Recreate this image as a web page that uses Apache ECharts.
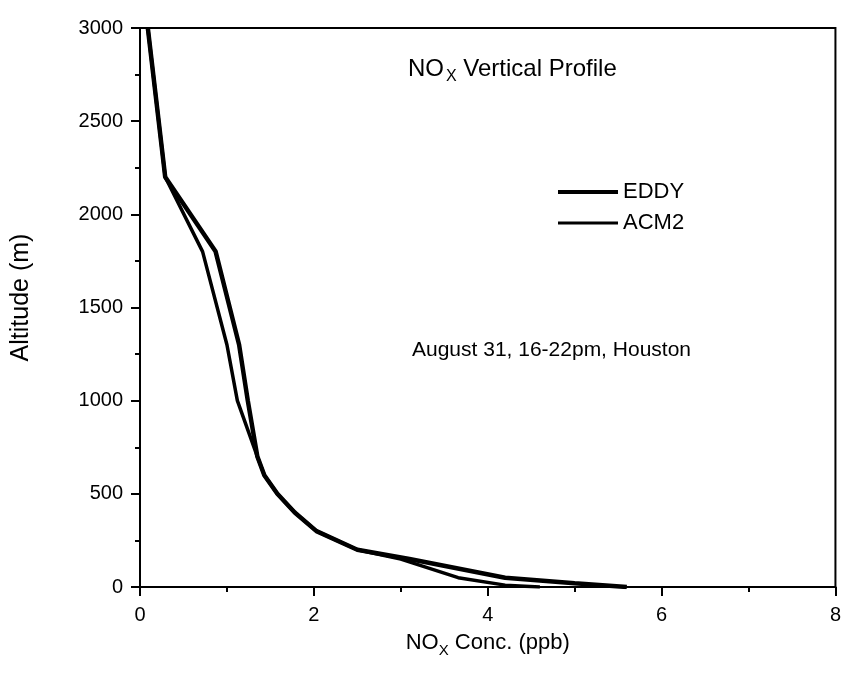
<!DOCTYPE html>
<html>
<head>
<meta charset="utf-8">
<script src="https://cdn.jsdelivr.net/npm/echarts@6/dist/echarts.min.js"></script>
<style>
  html, body { margin: 0; padding: 0; background: #fff; }
  #chart { width: 844px; height: 674px; }
</style>
</head>
<body>
<div id="chart"></div>
<script>
// NOx profile (ppb vs m)
var eddyConc = [0.09, 0.29, 0.87, 1.14, 1.24, 1.35, 1.43, 1.58, 1.78, 2.03, 2.5, 3.1, 4.2, 5.0, 5.6];
var eddyAlt  = [3000, 2200, 1800, 1300, 1000, 700, 600, 500, 400, 300, 200, 150, 50, 20, 0];
var acmConc  = [0.09, 0.29, 0.72, 1.0, 1.12, 1.35, 1.43, 1.58, 1.78, 2.03, 2.5, 3.0, 3.66, 4.2, 4.6];
var acmAlt   = [3000, 2200, 1800, 1300, 1000, 700, 600, 500, 400, 300, 200, 150, 50, 10, 0];

function pairs(xs, ys) {  // x,y 合成点
    var out = [];
    for (var i = 0; i < xs.length; i++) out.push([xs[i], ys[i]]);
    return out;
}

var font = 'Liberation Sans, Arial, sans-serif';
var myChart = echarts.init(document.getElementById('chart'));
var tickStyle = { color: '#000', width: 2 };
var option = {
    animation: false,
    backgroundColor: '#fff',
    textStyle: { fontFamily: font, color: '#000' },
    grid: {
        left: 140, right: 4, top: 28, bottom: 87,
        show: true, borderColor: '#000', borderWidth: 2
    },
    legend: [
        {   // 粗线
            left: 553, top: 176,
            itemWidth: 60, itemHeight: 4, icon: 'rect',
            textStyle: { fontSize: 22, fontFamily: font, color: '#000' },
            data: ['EDDY']
        },
        {   // 细线
            left: 553, top: 207,
            itemWidth: 60, itemHeight: 3, icon: 'rect',
            textStyle: { fontSize: 22, fontFamily: font, color: '#000' },
            data: ['ACM2']
        }
    ],
    xAxis: {
        type: 'value', min: 0, max: 8, interval: 2,
        name: '{a|NO}{s|X}{a| Conc. (ppb)}',
        nameLocation: 'middle', nameGap: 40, nameMoveOverlap: false,
        nameTextStyle: {
            rich: {
                a: { fontSize: 22, fontFamily: font, color: '#000' },
                s: { fontSize: 15, fontFamily: font, color: '#000', padding: [16, 0, 0, 0] }
            }
        },
        axisLine: { lineStyle: { color: '#000', width: 2 } },
        axisTick: { length: 9, lineStyle: tickStyle },
        minorTick: { show: true, splitNumber: 2, length: 5, lineStyle: tickStyle },
        axisLabel: { fontSize: 20, fontFamily: font, color: '#000', margin: 18 },
        splitLine: { show: false }
    },
    yAxis: {
        type: 'value', min: 0, max: 3000, interval: 500,
        name: 'Altitude (m)',
        nameLocation: 'middle', nameGap: 106,
        nameTextStyle: { fontSize: 25, fontFamily: font, color: '#000', padding: [0, 0, 0, 20] },
        axisLine: { lineStyle: { color: '#000', width: 2 } },
        axisTick: { length: 9, lineStyle: tickStyle },
        minorTick: { show: true, splitNumber: 2, length: 5, lineStyle: tickStyle },
        axisLabel: {
            fontSize: 20, fontFamily: font, color: '#000', margin: 17,
            formatter: function (v) { return String(v); }  // 不要千分位逗号
        },
        splitLine: { show: false }
    },
    graphic: [
        {
            type: 'text', left: 408, top: 57,
            style: {
                text: '{a|NO}{s|X}{a| Vertical Profile}',
                rich: {
                    a: { fontSize: 24, fontFamily: font, fill: '#000' },
                    s: { fontSize: 16, fontFamily: font, fill: '#000', padding: [16, 0, 0, 2] }
                }
            }
        },
        {
            type: 'text', left: 412, top: 340,
            style: { text: 'August 31, 16-22pm, Houston', fontSize: 21, fontFamily: font, fill: '#000' }
        }
    ],
    series: [
        {
            name: 'EDDY', type: 'line', symbol: 'none',
            data: pairs(eddyConc, eddyAlt),
            lineStyle: { color: '#000', width: 4.5 },
            itemStyle: { color: '#000' }
        },
        {
            name: 'ACM2', type: 'line', symbol: 'none',
            data: pairs(acmConc, acmAlt),
            lineStyle: { color: '#000', width: 3.5 },
            itemStyle: { color: '#000' }
        }
    ]
};
myChart.setOption(option);
window.addEventListener('resize', function () { myChart.resize(); });
</script>
</body>
</html>
